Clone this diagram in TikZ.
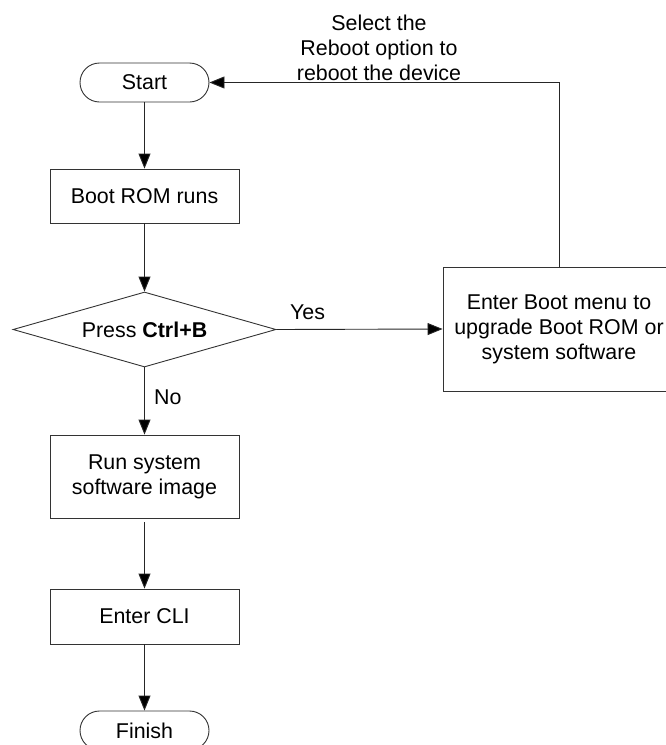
\documentclass[tikz,border=0pt]{standalone}
\usepackage{fontspec}
\setmainfont{Liberation Sans}
\usetikzlibrary{shapes.geometric,arrows.meta}
\begin{document}
\begin{tikzpicture}[x=1pt,y=-1pt,
  every node/.style={font=\fontsize{21.4}{25}\selectfont, text=black},
  box/.style={draw=black!80, line width=0.9pt, rectangle, inner sep=0pt, align=center},
  term/.style={box, rounded corners=19.5pt, minimum width=129pt, minimum height=39pt},
  proc/.style={box, minimum width=189pt},
  decision/.style={draw=black!80, line width=0.9pt, diamond, shape aspect=3.5, inner sep=0pt, minimum width=263pt, minimum height=75pt},
  conn/.style={draw=black!85, line width=0.9pt, -{Triangle[length=15pt,width=12pt,fill=black]}},
  lbl/.style={inner sep=0pt, align=center}
]
\useasboundingbox (0,0) rectangle (666,745);

\node[term] (start) at (144.5,82.5) {Start};
\node[proc, minimum height=54pt] (boot) at (144.5,196) {Boot ROM runs};
\node[decision] (dec) at (144.5,329.5) {Press \textbf{Ctrl+B}};
\node[proc, minimum height=83pt] (run) at (144.5,476.5) {Run system\\software image};
\node[proc, minimum height=55pt] (cli) at (144.5,616.5) {Enter CLI};
\node[term] (finish) at (144.5,730.5) {Finish};
\node[box, minimum width=232pt, minimum height=124pt] (menu) at (559,329) {Enter Boot menu to\\upgrade Boot ROM or\\system software};

\node[lbl] (reboot) at (379,48) {Select the\\Reboot option to\\reboot the device};
\node[lbl, anchor=center] (yes) at (307.5,312) {Yes};
\node[lbl, anchor=west] (no) at (154,397) {No};

\draw[conn] (start) -- (boot);
\draw[conn] (boot) -- (dec);
\draw[conn] (dec) -- (run);
\draw[conn, shorten <=4pt] (run) -- (cli);
\draw[conn] (cli) -- (finish);
\draw[conn] (dec.east) -- (menu.west);
\draw[conn] (menu.north) |- (start.east);
\end{tikzpicture}
\end{document}
